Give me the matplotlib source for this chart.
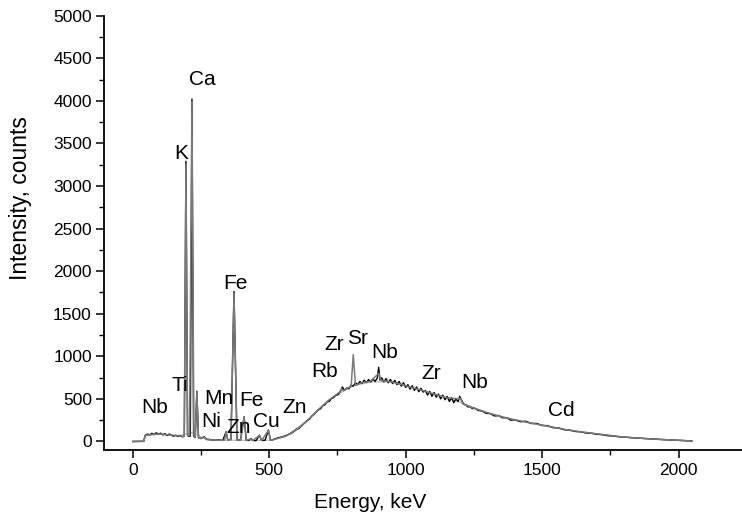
import numpy as np
import matplotlib
matplotlib.use('Agg')
import matplotlib.pyplot as plt
from matplotlib.ticker import MultipleLocator

plt.rcParams['font.family'] = ['Liberation Sans', 'DejaVu Sans']

# --- spectrum 1 (black, noisy) : channel, counts
black_x = [0, 40, 46, 55, 62, 70, 78, 86, 94, 102, 110, 118, 126, 134, 142, 150, 158, 166, 174, 182,
           189, 195, 201, 206, 211, 217, 223, 229, 235, 241, 250, 262, 270, 285, 300, 315, 330, 342, 348,
           360, 371, 382, 395, 408, 416, 425, 433, 440, 452, 464, 472, 485, 497, 505, 515, 525, 535, 545,
           555, 565, 575, 585, 595,
           600, 608, 616, 624, 632, 640, 648, 656, 664, 672, 680, 688, 696, 704, 712, 720, 728, 736, 744,
           752, 760, 768, 776, 784, 792, 800, 808, 816, 824, 832, 840, 848, 856, 864, 872, 880, 888, 896,
           901, 906, 912, 920, 928, 936, 944, 952, 960, 968, 976, 984, 992, 1000, 1008, 1016, 1024, 1032,
           1040, 1048, 1056, 1064, 1072, 1080, 1088, 1096, 1104, 1112, 1120, 1128, 1136, 1144, 1152, 1160,
           1168, 1176, 1184, 1192, 1198, 1204, 1212, 1220, 1228, 1236, 1244, 1252,
           1265, 1280, 1295, 1310, 1325, 1340, 1355, 1370, 1385, 1400, 1420, 1440, 1460, 1480, 1500,
           1520, 1540, 1560, 1580, 1600, 1620, 1640, 1660, 1680, 1700, 1720, 1740, 1760, 1780, 1800, 1830,
           1860, 1890, 1920, 1950, 1980, 2010, 2048]
black_y = [0, 2, 72, 88, 76, 96, 82, 102, 86, 98, 78, 92, 70, 88, 72, 62, 74, 58, 66, 55,
           60, 3290, 70, 60, 65, 4020, 60, 50, 590, 45, 35, 55, 25, 20, 15, 18, 12, 115, 20,
           25, 1760, 20, 18, 290, 15, 12, 35, 12, 10, 75, 12, 15, 135, 15, 22, 35, 45, 52,
           62, 75, 88, 105, 130,
           145, 150, 175, 200, 225, 250, 262, 300, 318, 345, 372, 385, 420, 430, 468, 470, 505, 515, 545,
           548, 585, 640, 600, 628, 618, 662, 650, 690, 668, 705, 680, 720, 690, 728, 698, 735, 705, 745,
           870, 720, 748, 700, 738, 690, 728, 680, 718, 668, 705, 650, 690, 635, 668, 615, 655, 600,
           640, 585, 625, 580, 600, 545, 588, 530, 575, 520, 558, 500, 545, 490, 530, 470,
           515, 455, 500, 470, 530, 490, 440, 430, 405, 410, 385, 392,
           365, 358, 330, 328, 300, 305, 278, 280, 250, 255, 232, 238, 212, 212, 188,
           186, 162, 160, 138, 135, 118, 114, 100, 97, 85, 80, 68, 65, 56, 52, 44,
           38, 31, 27, 21, 17, 12, 6]

# --- spectrum 2 (grey, smoother, carries the peaks)
grey_x = [0, 40, 46, 60, 80, 100, 120, 140, 160, 180, 189, 195, 201, 208, 217, 224, 229, 235, 241, 250,
          262, 270, 300, 330, 336, 342, 348, 360, 371, 382, 395, 408, 416, 433, 440, 464, 472, 497, 505,
          520, 560, 600, 640, 680, 720, 760, 765, 772, 790, 800, 808, 816, 840, 870, 901, 910, 950, 1000,
          1050, 1100, 1150, 1195, 1200, 1210, 1250, 1300, 1350, 1400, 1450, 1500, 1550, 1600, 1700, 1800,
          1900, 2000, 2048]
grey_y = [0, 2, 70, 80, 85, 88, 80, 75, 68, 60, 62, 3256, 72, 70, 3990, 65, 55, 580, 45, 35,
          50, 25, 16, 14, 15, 110, 18, 22, 1736, 20, 16, 285, 14, 30, 12, 70, 12, 130, 14,
          25, 62, 138, 245, 375, 490, 585, 620, 595, 630, 645, 1020, 660, 690, 705, 800, 715, 700, 655,
          610, 562, 515, 500, 510, 440, 390, 338, 292, 255, 222, 192, 162, 132, 90, 52,
          30, 14, 6]

# --- background (light grey)
bg_x = [0, 40, 46, 100, 160, 190, 210, 230, 260, 300, 400, 500, 560, 640, 720, 800, 870, 950, 1000,
        1100, 1200, 1300, 1400, 1500, 1600, 1700, 1800, 1900, 2000, 2048]
bg_y = [0, 2, 70, 85, 70, 80, 110, 85, 40, 18, 12, 14, 60, 245, 490, 650, 700, 700, 650,
        560, 460, 335, 252, 190, 130, 88, 50, 28, 13, 6]

# --- element labels
labels = ['Ca', 'K', 'Fe', 'Ti', 'Nb', 'Mn', 'Fe', 'Ni', 'Zn', 'Cu', 'Zn', 'Rb', 'Zr', 'Sr', 'Nb',
          'Zr', 'Nb', 'Cd']
label_x = [254, 177, 375, 172, 79, 317, 436, 289, 387, 491, 594, 704, 737, 824, 922, 1095, 1251, 1569]
label_y = [4256, 3386, 1858, 658, 403, 502, 482, 239, 168, 239, 396, 827, 1137, 1207, 1050, 803, 697, 364]

fig = plt.figure(figsize=(7.42, 5.15), dpi=100)
ax = fig.add_axes([0.1406, 0.1262, 0.8594, 0.8433])

ax.plot(bg_x, bg_y, color='#c4c4c4', lw=1.0, zorder=2)
ax.plot(black_x, black_y, color='black', lw=1.0, zorder=3)
ax.plot(grey_x, grey_y, color='#7a7a7a', lw=1.1, zorder=4)

for t, x, y in zip(labels, label_x, label_y):
    ax.text(x, y, t, ha='center', va='center', fontsize=15, color='black', zorder=5)

ax.set_xlim(-104, 2232)
ax.set_ylim(-100, 5000)
ax.xaxis.set_major_locator(MultipleLocator(500))
ax.xaxis.set_minor_locator(MultipleLocator(250))
ax.yaxis.set_major_locator(MultipleLocator(500))
ax.yaxis.set_minor_locator(MultipleLocator(250))
ax.spines['top'].set_visible(False)
ax.spines['right'].set_visible(False)
for s in ('left', 'bottom'):
    ax.spines[s].set_linewidth(1.3)
ax.tick_params(which='major', direction='out', length=6, width=1.1, labelsize=12.5, pad=3)
ax.tick_params(which='minor', direction='out', length=3.5, width=1.0)
ax.set_xlabel('Energy, keV', fontsize=15)
ax.set_ylabel('Intensity, counts', fontsize=16.5)
ax.xaxis.set_label_coords(0.4167, -0.098)
ax.yaxis.set_label_coords(-0.114, 0.58)

fig.savefig('out.png', dpi=100)
